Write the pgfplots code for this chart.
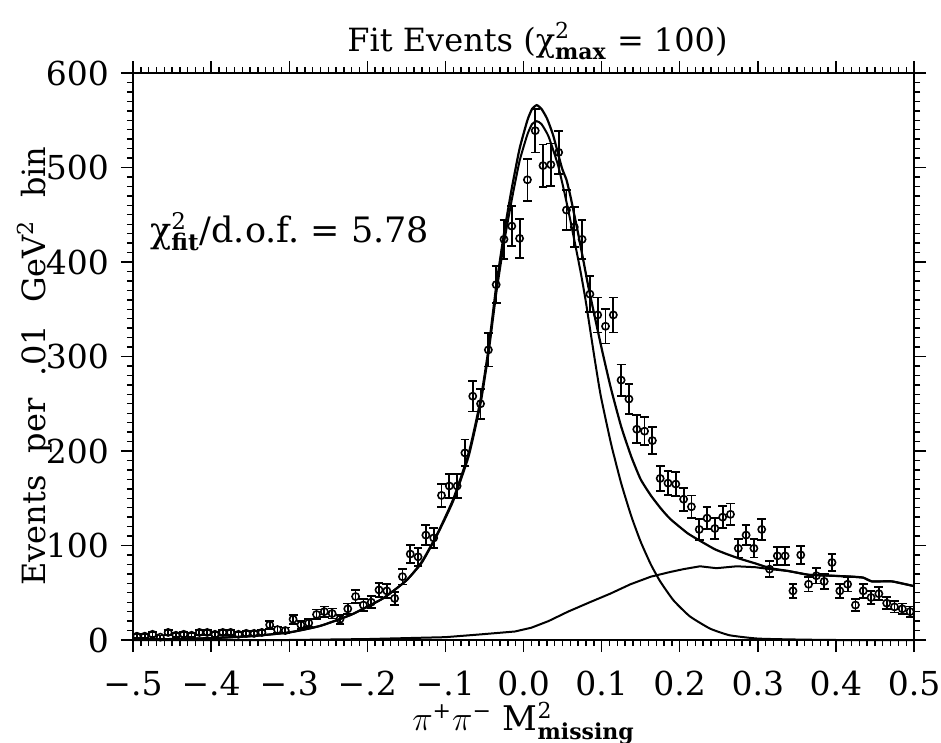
\documentclass[border=0pt]{standalone}
\usepackage{fontspec}
\setmainfont{DejaVu Serif}
\newfontfamily\widefont[WordSpace=2.2]{DejaVu Serif}
\usepackage{pgfplots}
\pgfplotsset{compat=1.18}
\pgfplotstableread{
x y e
-0.495 4 2.0
-0.485 4 2.0
-0.475 6 2.4
-0.465 3 1.7
-0.455 8 2.8
-0.445 5 2.2
-0.435 6 2.4
-0.425 5 2.2
-0.415 8 2.8
-0.405 8 2.8
-0.395 6 2.4
-0.385 8 2.8
-0.375 8 2.8
-0.365 6 2.4
-0.355 7 2.6
-0.345 7 2.6
-0.335 8 2.8
-0.325 16 4.0
-0.315 11 3.3
-0.305 10 3.2
-0.295 22 4.7
-0.285 16 4.0
-0.275 18 4.2
-0.265 27 5.2
-0.255 30 5.5
-0.245 28 5.3
-0.235 22 4.7
-0.225 33 5.7
-0.215 46 6.8
-0.205 37 6.1
-0.195 40 6.3
-0.185 53 7.3
-0.175 52 7.2
-0.165 44 6.6
-0.155 67 8.2
-0.145 91 9.5
-0.135 88 9.4
-0.125 111 10.5
-0.115 108 10.4
-0.105 153 12.4
-0.095 163 12.8
-0.085 163 12.8
-0.075 198 14.1
-0.065 258 16.1
-0.055 250 15.8
-0.045 307 17.5
-0.035 376 19.4
-0.025 424 20.6
-0.015 438 20.9
-0.005 425 20.6
0.005 487 22.1
0.015 539 23.2
0.025 502 22.4
0.035 503 22.4
0.045 516 22.7
0.055 455 21.3
0.065 437 20.9
0.075 424 20.6
0.085 366 19.1
0.095 344 18.5
0.105 332 18.2
0.115 344 18.5
0.125 275 16.6
0.135 255 16.0
0.145 223 14.9
0.155 221 14.9
0.165 211 14.5
0.175 171 13.1
0.185 166 12.9
0.195 165 12.8
0.205 149 12.2
0.215 141 11.9
0.225 117 10.8
0.235 129 11.4
0.245 118 10.9
0.255 130 11.4
0.265 133 11.5
0.275 97 9.8
0.285 111 10.5
0.295 97 9.8
0.305 117 10.8
0.315 75 8.7
0.325 89 9.4
0.335 89 9.4
0.345 52 7.2
0.355 90 9.5
0.365 59 7.7
0.375 68 8.2
0.385 62 7.9
0.395 82 9.1
0.405 52 7.2
0.415 59 7.7
0.425 37 6.1
0.435 52 7.2
0.445 45 6.7
0.455 49 7.0
0.465 39 6.2
0.475 35 5.9
0.485 33 5.7
0.495 30 5.5
}\datatable
\pgfplotstableread{
x y
-0.50 0.5
-0.45 1
-0.40 2
-0.35 4
-0.30 8
-0.26 15
-0.22 27
-0.18 44
-0.15 63
-0.13 82
-0.11 112
-0.09 147
-0.07 195
-0.055 250
-0.045 302
-0.035 366
-0.025 420
-0.015 466
-0.005 507
0.005 535
0.011 546
0.017 549
0.023 546
0.032 533
0.044 503
0.052 475
0.060 444
0.073 390
0.080 357
0.091 298
0.099 258
0.112 208
0.125 166
0.138 131
0.150 104
0.163 80
0.175 62
0.192 42
0.213 25
0.239 12
0.264 5
0.30 1.5
0.35 0.5
0.40 0
0.50 0
}\sigtable
\pgfplotstableread{
x y
-0.50 0.5
-0.45 1
-0.40 2
-0.35 4
-0.30 8
-0.26 15
-0.22 27
-0.18 44
-0.15 63
-0.13 83
-0.11 113
-0.09 149
-0.07 198
-0.055 254
-0.045 307
-0.035 374
-0.025 430
-0.015 478
-0.005 520
0.005 550
0.011 562
0.017 566
0.023 562
0.030 552
0.038 534
0.049 500
0.055 487
0.060 470
0.064 454
0.070 430
0.077 400
0.083 374
0.091 343
0.101 305
0.112 266
0.125 226
0.138 194
0.150 170
0.163 153
0.176 139
0.188 128
0.210 113
0.228 104
0.245 96
0.260 91
0.277 86
0.297 81
0.316 76
0.339 73
0.365 69
0.395 68
0.421 67
0.435 66
0.446 62
0.472 62
0.50 57
}\tottable
\pgfplotstableread{
x y
-0.50 0
-0.30 0
-0.20 1
-0.10 3
-0.054 6
-0.011 9
0.010 13
0.032 20
0.057 30
0.085 40
0.111 49
0.137 59
0.163 67
0.188 72
0.205 75
0.226 78
0.247 76
0.273 78
0.297 77
0.316 75
0.339 73
0.365 69
0.395 68
0.421 67
0.435 66
0.446 62
0.472 62
0.50 57
}\bgtable
\begin{document}
\begin{tikzpicture}
\useasboundingbox (-66.5pt,-51.5pt) rectangle (404pt,320pt);
\begin{axis}[
  at={(0pt,0pt)}, anchor=south west,
  scale only axis, width=390.5pt, height=283.5pt,
  xmin=-0.5, xmax=0.5, ymin=0, ymax=600,
  xtick={-0.5,-0.4,-0.3,-0.2,-0.1,0,0.1,0.2,0.3,0.4,0.5},
  xticklabels={−.5,−.4,−.3,−.2,−.1,0.0,0.1,0.2,0.3,0.4,0.5},
  ytick={0,100,200,300,400,500,600},
  yticklabels={0,100,200,300,400,500,600},
  minor x tick num=9, minor y tick num=9,
  tick align=outside,
  major tick length=6pt, minor tick length=3pt,
  every tick/.style={black, line width=0.7pt},
  axis line style={line width=0.9pt},
  tick label style={font=\fontsize{16.5}{19}\selectfont},
  xticklabel style={anchor=north, yshift=-6pt},
  yticklabel style={anchor=east, xshift=-2.5pt},
  title={Fit Events (χ$^{\mbox{\fontsize{11}{13}\selectfont 2}}_{\mbox{\fontsize{11}{13}\selectfont\bfseries max}}$ = 100)},
  title style={font=\fontsize{16}{19}\selectfont, yshift=-3pt, xshift=7pt},
  xlabel={$\pi$$^{\mbox{\fontsize{11}{13}\selectfont +}}$$\pi$$^{\mbox{\fontsize{11}{13}\selectfont −}}$ M$^{\mbox{\fontsize{11}{13}\selectfont 2}}_{\mbox{\fontsize{11}{13}\selectfont\bfseries missing}}$},
  xlabel style={font=\fontsize{17}{20}\selectfont, yshift=4pt},
  ylabel={\widefont Events per .01 GeV$^{\mbox{\fontsize{11}{13}\selectfont 2}}$ bin},
  ylabel style={font=\fontsize{16}{19}\selectfont, at={(ticklabel cs:0.483)}, yshift=-10pt},
  clip=false,
]
\addplot[black, line width=1.1pt, smooth, tension=0.3] table[x=x,y=y] {\tottable};
\addplot[black, line width=1.0pt, smooth, tension=0.3] table[x=x,y=y] {\sigtable};
\addplot[black, line width=1.0pt] table[x=x,y=y] {\bgtable};
\addplot[black, only marks, mark=o, mark size=1.8pt, mark options={line width=0.8pt, fill=white},
  error bars/.cd, y dir=both, y explicit,
  error bar style={line width=0.9pt, black},
  error mark options={rotate=90, mark size=2.2pt, line width=0.9pt, black}]
  table[x=x, y=y, y error=e] {\datatable};
\node[anchor=west, font=\fontsize{17.5}{21}\selectfont] at (axis cs:-0.487,432)
  {χ$^{\mbox{\fontsize{11.5}{13}\selectfont 2}}_{\mbox{\fontsize{11.5}{13}\selectfont\bfseries fit}}$/d.o.f.\ = 5.78};
\end{axis}
\end{tikzpicture}
\end{document}
